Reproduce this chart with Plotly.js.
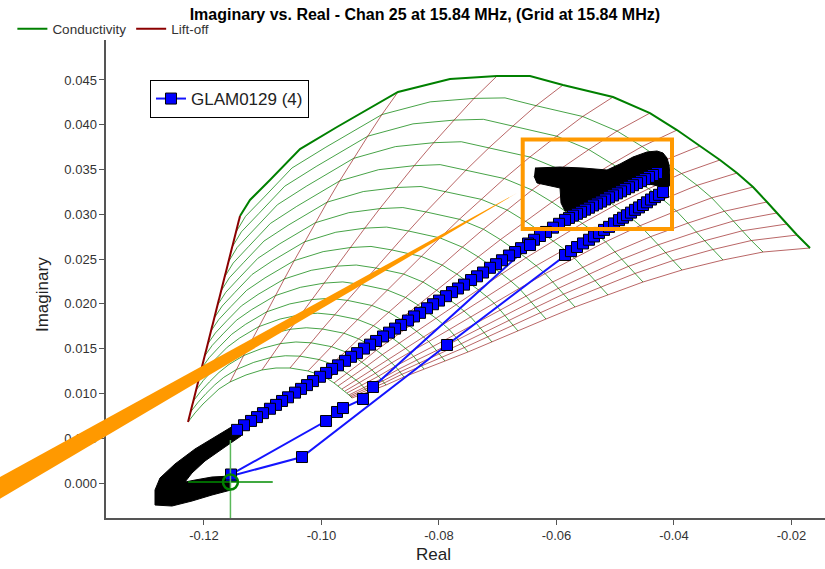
<!DOCTYPE html>
<html><head><meta charset="utf-8">
<script src="https://cdn.plot.ly/plotly-3.0.1.min.js"></script>
<style>html,body{margin:0;padding:0;background:#fff}#chart{width:825px;height:569px}</style>
</head><body><div id="chart"></div>
<script>
// ---------- Impedance-plane grid ----------
const airX = -0.1155, airY = 0.0001;               // probe-in-air point
// conductivity nodes on the zero lift-off curve (outer) and on the max lift-off curve (inner)
const outerX = [-0.11387,-0.11217,-0.10877,-0.10366,-0.09736,-0.08698,-0.07813,-0.07013,-0.06451,-0.05889,-0.05038,-0.04409,-0.03949,-0.03557,-0.03217,-0.02928,-0.02655,-0.02417,-0.02247,-0.02077,-0.01906,-0.01685];
const outerY = [0.02981,0.03160,0.03383,0.03729,0.03975,0.04366,0.04511,0.04544,0.04544,0.04444,0.04310,0.04131,0.03941,0.03763,0.03607,0.03461,0.03305,0.03138,0.03015,0.02892,0.02769,0.02624];
const innerX = [-0.12272,-0.12153,-0.12017,-0.11881,-0.11745,-0.11557,-0.11285,-0.11013,-0.10774,-0.10536,-0.10230,-0.10026,-0.09889,-0.09787,-0.09719,-0.09651,-0.09600,-0.09566,-0.09532,-0.09515,-0.09498,-0.09481];
const innerY = [0.00681,0.00782,0.00882,0.00971,0.01050,0.01128,0.01206,0.01262,0.01284,0.01284,0.01251,0.01206,0.01161,0.01117,0.01083,0.01050,0.01027,0.01005,0.00983,0.00971,0.00960,0.00949];
const liftOffLineShown = [1,0,0,0,0,1,0,1,0,1,1,1,1,1,1,1,1,1,1,1,1,1];
// lift-off nodes on the lowest-conductivity (left) and highest-conductivity (right) lift-off lines
const leftX  = [-0.11387,-0.11455,-0.11520,-0.11585,-0.11649,-0.11709,-0.11768,-0.11825,-0.11881,-0.11937,-0.11988,-0.12039,-0.12087,-0.12133,-0.12180,-0.12228,-0.12272];
const leftY  = [0.02981,0.02803,0.02635,0.02468,0.02300,0.02144,0.01988,0.01842,0.01697,0.01552,0.01418,0.01284,0.01161,0.01038,0.00916,0.00793,0.00681];
const rightX = [-0.01685,-0.02485,-0.03166,-0.03864,-0.04528,-0.05123,-0.05685,-0.06179,-0.06655,-0.07098,-0.07506,-0.07898,-0.08255,-0.08596,-0.08902,-0.09209,-0.09481];
const rightY = [0.02624,0.02579,0.02490,0.02378,0.02244,0.02099,0.01965,0.01831,0.01697,0.01574,0.01463,0.01362,0.01273,0.01184,0.01094,0.01016,0.00949];
const liftFrac = [0,0.0975,0.182,0.269,0.353,0.430,0.503,0.567,0.630,0.689,0.742,0.793,0.840,0.884,0.925,0.965,1];

// ---------- Measured series GLAM0129 (4) ----------
const seekX = [-0.11540,-0.10332,-0.07864];
const seekY = [0.00078,0.00290,0.01541];
const band2X = [-0.05855,-0.05753,-0.05651,-0.05549,-0.05447,-0.05362,-0.05277,-0.05191,-0.05106,-0.05021,-0.04936,-0.04868,-0.04800,-0.04732,-0.04664,-0.04596,-0.04528,-0.04460,-0.04391,-0.04323,-0.04255,-0.04187];
const band2Y = [0.02546,0.02589,0.02635,0.02675,0.02716,0.02753,0.02792,0.02826,0.02860,0.02898,0.02935,0.02962,0.02990,0.03019,0.03050,0.03077,0.03104,0.03134,0.03165,0.03192,0.03218,0.03249];
const band1X = [-0.04289,-0.04357,-0.04426,-0.04494,-0.04562,-0.04630,-0.04698,-0.04766,-0.04834,-0.04902,-0.04970,-0.05038,-0.05106,-0.05174,-0.05243,-0.05311,-0.05379,-0.05447,-0.05515,-0.05583,-0.05651,-0.05719,-0.05787,-0.05855,
  -0.05957,-0.06060,-0.06179,-0.06281,-0.06383,-0.06485,-0.06604,-0.06706,-0.06809,-0.06928,-0.07030,-0.07132,-0.07251,-0.07353,-0.07455,-0.07574,-0.07677,-0.07779,-0.07881,-0.08000,-0.08102,-0.08204,-0.08323,-0.08426,-0.08528,-0.08647,-0.08749,-0.08851,-0.08953,-0.09072,-0.09174,-0.09277,-0.09396,-0.09498,-0.09600,-0.09719,-0.09821,-0.09923,-0.10026,-0.10145,-0.10247,-0.10349,-0.10451,-0.10570,-0.10672,-0.10774,-0.10877,-0.10996,-0.11098,-0.11200,-0.11319,-0.11438];
const band1Y = [0.03461,0.03439,0.03418,0.03393,0.03370,0.03349,0.03325,0.03302,0.03281,0.03256,0.03234,0.03211,0.03190,0.03166,0.03142,0.03120,0.03099,0.03074,0.03052,0.03028,0.03006,0.02985,0.02960,0.02938,
  0.02894,0.02851,0.02803,0.02758,0.02716,0.02674,0.02622,0.02579,0.02540,0.02487,0.02443,0.02403,0.02350,0.02308,0.02266,0.02215,0.02172,0.02131,0.02086,0.02037,0.01996,0.01951,0.01900,0.01860,0.01814,0.01764,0.01724,0.01679,0.01636,0.01586,0.01545,0.01501,0.01450,0.01409,0.01364,0.01314,0.01274,0.01229,0.01186,0.01138,0.01093,0.01051,0.01009,0.00957,0.00916,0.00872,0.00829,0.00780,0.00736,0.00693,0.00645,0.00593];
const returnX = [-0.11540,-0.09923,-0.09736,-0.09634,-0.09294,-0.09123,-0.06451];
const returnY = [0.00095,0.00692,0.00793,0.00837,0.00938,0.01072,0.02657];
// densely over-plotted regions (marker outlines merge into solid black)
const nullClusterX = [-0.11540,-0.11864,-0.12153,-0.12323,-0.12204,-0.11983,-0.11643,-0.11370,-0.11506,-0.11813,-0.12153,-0.12494,-0.12749,-0.12834,-0.12834,-0.12545,-0.12204,-0.11864,-0.11540];
const nullClusterY = [0.00078,0.00067,0.00033,0.00011,0.00112,0.00246,0.00402,0.00525,0.00636,0.00514,0.00380,0.00212,0.00056,-0.00078,-0.00246,-0.00257,-0.00201,-0.00134,-0.00078];
const peakClusterX = [-0.06366,-0.05940,-0.05549,-0.05140,-0.04919,-0.04698,-0.04460,-0.04289,-0.04187,-0.04119,-0.04085,-0.04068,-0.04068,-0.04136,-0.04272,-0.04494,-0.04834,-0.05174,-0.05430,-0.05634,-0.05855,-0.05923,-0.05940,-0.06196,-0.06332,-0.06383];
const peakClusterY = [0.03517,0.03528,0.03517,0.03495,0.03562,0.03640,0.03696,0.03707,0.03685,0.03629,0.03551,0.03439,0.03327,0.03272,0.03316,0.03350,0.03272,0.03171,0.03093,0.03037,0.03037,0.03126,0.03294,0.03327,0.03350,0.03428];

// ---------- Annotations: phase wedge, alarm box, crosshair ----------
const wedgeX = [-0.1556,-0.06672,-0.1556];
const wedgeY = [0.00035,0.03238,-0.00211];
const boxX = [-0.06575,-0.04034];
const boxY = [0.02836,0.03835];
const crossHalfX = 0.0072, crossTopY = 0.0048, crossBottomY = -0.0060;

// ---------- Axis ticks ----------
const xTickVals = [-0.12,-0.10,-0.08,-0.06,-0.04,-0.02];
const xTickText = ['-0.12','-0.10','-0.08','-0.06','-0.04','-0.02'];

// ---------- build grid mesh (boundary-blended between the read curves) ----------
const nC = outerX.length, nR = leftX.length, last = nR - 1;
function node(i, j) {
  const v = liftFrac[j], u = i / (nC - 1);
  const bx = (1 - v) * outerX[i] + v * innerX[i];
  const by = (1 - v) * outerY[i] + v * innerY[i];
  const dLx = leftX[j] - ((1 - v) * leftX[0] + v * leftX[last]);
  const dLy = leftY[j] - ((1 - v) * leftY[0] + v * leftY[last]);
  const dRx = rightX[j] - ((1 - v) * rightX[0] + v * rightX[last]);
  const dRy = rightY[j] - ((1 - v) * rightY[0] + v * rightY[last]);
  return [bx + (1 - u) * dLx + u * dRx, by + (1 - u) * dLy + u * dRy];
}
const gX = [], gY = [];
for (let j = 1; j < nR; j++) { for (let i = 0; i < nC; i++) { const p = node(i, j); gX.push(p[0]); gY.push(p[1]); } gX.push(null); gY.push(null); }
const rX = [], rY = [];
for (let i = 1; i < nC; i++) { if (!liftOffLineShown[i]) continue; for (let j = 0; j < nR; j++) { const p = node(i, j); rX.push(p[0]); rY.push(p[1]); } rX.push(null); rY.push(null); }

const dataX = [].concat(seekX, band2X, [null], band1X, [null], returnX);
const dataY = [].concat(seekY, band2Y, [null], band1Y, [null], returnY);

const FONT = 'Liberation Sans, Arial, sans-serif';
const traces = [
  {x: gX, y: gY, mode: 'lines', line: {color: 'rgba(0,128,0,0.72)', width: 1}, showlegend: false, hoverinfo: 'skip'},
  {x: rX, y: rY, mode: 'lines', line: {color: 'rgba(139,0,0,0.6)', width: 1}, showlegend: false, hoverinfo: 'skip'},
  {x: outerX, y: outerY, mode: 'lines', name: 'Conductivity', legend: 'legend2', line: {color: 'rgb(0,128,0)', width: 2}},
  {x: leftX, y: leftY, mode: 'lines', name: 'Lift-off', legend: 'legend2', line: {color: 'rgb(139,0,0)', width: 2}},
  {x: nullClusterX, y: nullClusterY, mode: 'lines', fill: 'toself', fillcolor: '#000', line: {color: '#000', width: 1}, showlegend: false, hoverinfo: 'skip'},
  {x: peakClusterX, y: peakClusterY, mode: 'lines', fill: 'toself', fillcolor: '#000', line: {color: '#000', width: 1}, showlegend: false, hoverinfo: 'skip'},
  {x: dataX, y: dataY, mode: 'lines+markers', name: 'GLAM0129 (4)', legend: 'legend',
   line: {color: 'rgb(20,20,255)', width: 2},
   marker: {symbol: 'square', size: 11, color: 'rgb(0,0,255)', line: {color: '#000', width: 1}}},
  {x: [airX - crossHalfX, airX + crossHalfX], y: [airY, airY], mode: 'lines', line: {color: 'rgb(0,140,0)', width: 1.5}, showlegend: false, hoverinfo: 'skip'},
  {x: [airX, airX], y: [crossBottomY, crossTopY], mode: 'lines', line: {color: 'rgb(90,185,90)', width: 1.5}, showlegend: false, hoverinfo: 'skip'},
  {x: [airX], y: [airY], mode: 'markers', marker: {symbol: 'circle-open', size: 15, color: 'rgb(0,128,0)', line: {width: 2.5}}, showlegend: false, hoverinfo: 'skip'},
  {x: [], y: [], xaxis: 'x2', yaxis: 'y', mode: 'markers', showlegend: false, hoverinfo: 'skip'}
];

const wedgePath = 'M' + wedgeX.map((x, k) => x + ',' + wedgeY[k]).join(' L') + ' Z';

const layout = {
  width: 825, height: 569,
  margin: {l: 0, r: 0, t: 40, b: 51},
  paper_bgcolor: '#fff', plot_bgcolor: 'rgba(0,0,0,0)',
  font: {family: FONT, color: '#333'},
  title: {text: '<b>Imaginary vs. Real - Chan 25 at 15.84 MHz, (Grid at 15.84 MHz)</b>', x: 0.515, xanchor: 'center', yref: 'container', y: 0.974, yanchor: 'middle', font: {family: FONT, size: 16, color: '#000'}},
  xaxis: {domain: [0, 1], range: [-0.154723, -0.014298], visible: false, fixedrange: true},
  xaxis2: {domain: [0.12848, 1], range: [-0.136681, -0.014298], anchor: 'y', showgrid: false, zeroline: false,
    showline: true, linecolor: '#555', linewidth: 1.5, ticks: 'outside', ticklen: 5, tickcolor: '#555',
    tickvals: xTickVals, ticktext: xTickText, tickfont: {family: FONT, size: 13, color: '#333'}, automargin: false},
  yaxis: {domain: [0, 1], range: [-0.003908, 0.049464], anchor: 'x2', showgrid: false, zeroline: false,
    showline: true, linecolor: '#555', linewidth: 1.5, ticks: 'outside', ticklen: 5, tickcolor: '#555',
    tick0: 0, dtick: 0.005, tickformat: '.3f', tickfont: {family: FONT, size: 13, color: '#333'}, automargin: false},
  showlegend: true,
  legend: {x: 0.1818, y: 0.9163, xanchor: 'left', yanchor: 'top', bgcolor: '#fff', bordercolor: '#000', borderwidth: 1,
    font: {family: FONT, size: 17, color: '#222'}, tracegroupgap: 0},
  legend2: {x: 0.015, y: 1.023, xanchor: 'left', yanchor: 'middle', orientation: 'h', bgcolor: 'rgba(0,0,0,0)',
    font: {family: FONT, size: 13.5, color: '#333'}},
  shapes: [
    {type: 'path', xref: 'x', yref: 'y', path: wedgePath, fillcolor: '#FF9900', line: {width: 0}, layer: 'above'},
    {type: 'rect', xref: 'x', yref: 'y', x0: boxX[0], x1: boxX[1], y0: boxY[0], y1: boxY[1], line: {color: '#FF9900', width: 4}, layer: 'above'}
  ],
  annotations: [
    {text: 'Real', xref: 'paper', yref: 'paper', x: 433 / 825, y: -0.077, showarrow: false, font: {family: FONT, size: 17, color: '#222'}, xanchor: 'center', yanchor: 'middle'},
    {text: 'Imaginary', xref: 'paper', yref: 'paper', x: 42 / 825, y: 0.4665, showarrow: false, textangle: -90, font: {family: FONT, size: 17, color: '#222'}, xanchor: 'center', yanchor: 'middle'}
  ]
};

Plotly.newPlot('chart', traces, layout, {staticPlot: true, displayModeBar: false});
</script>
</body></html>
